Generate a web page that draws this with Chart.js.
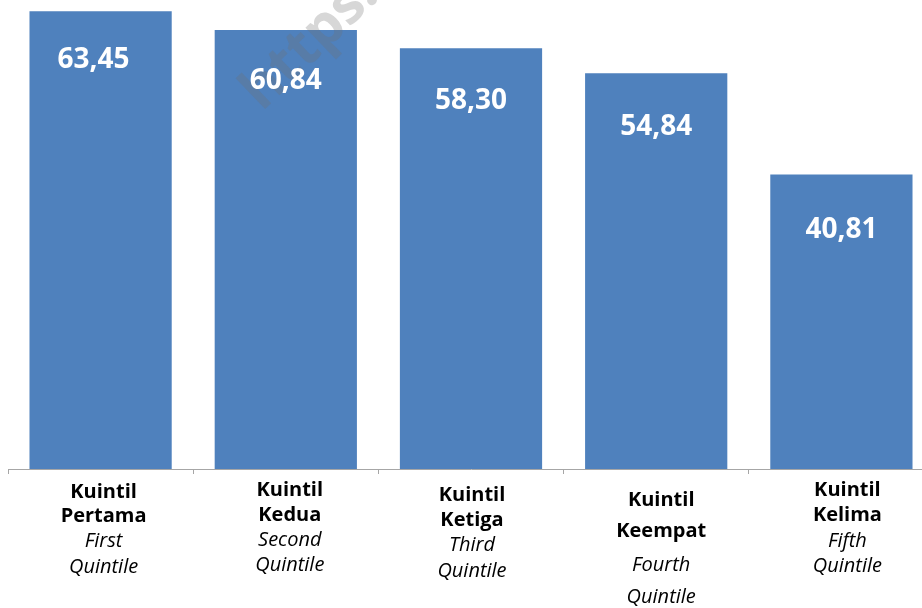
<!DOCTYPE html>
<html>
<head>
<meta charset="utf-8">
<script src="https://cdn.jsdelivr.net/npm/chart.js@4.4.0/dist/chart.umd.min.js"></script>
<style>
  html, body { margin: 0; padding: 0; background: #fff; overflow: hidden; }
  #wrap { width: 922px; height: 608px; overflow: hidden; position: relative; }
  #box { width: 940px; height: 608px; position: absolute; left: 0; top: 0; }
</style>
</head>
<body>
<div id="wrap"><div id="box"><canvas id="chart"></canvas></div></div>
<script>
// Kuintil pendapatan — nilai per kuintil
const categories = ['Kuintil Pertama', 'Kuintil Kedua', 'Kuintil Ketiga', 'Kuintil Keempat', 'Kuintil Kelima'];
const labelsId = [['Kuintil', 'Pertama'], ['Kuintil', 'Kedua'], ['Kuintil', 'Ketiga'], ['Kuintil', 'Keempat'], ['Kuintil', 'Kelima']];
const labelsEn = [['First', 'Quintile'], ['Second', 'Quintile'], ['Third', 'Quintile'], ['Fourth', 'Quintile'], ['Fifth', 'Quintile']];
const values = [63.45, 60.84, 58.30, 54.84, 40.81];

const FONT = '"Open Sans", "Noto Sans", sans-serif';

// y centres of each label line, per category (the 4th one is spread out)
const lineY = [
  [492, 516, 541, 567],
  [490, 515, 540, 565],
  [495, 520, 545, 571],
  [500, 531, 565, 597],
  [490, 515, 541, 566],
];
const lineDx = [3, 4, 1, 5, 6];
// value label offsets from bar top
const valDy = [49, 51, 53, 54, 55];
const valDx = [-7, 0, 0, 0, 0];

const fmt = v => v.toFixed(2).replace('.', ',');

const watermark = {
  id: 'watermark',
  afterDatasetsDraw(chart) {
    const ctx = chart.ctx;
    ctx.save();
    ctx.translate(262, 112);
    ctx.rotate(-44 * Math.PI / 180);
    ctx.font = 'bold 56px ' + FONT;
    ctx.fillStyle = 'rgba(110,110,110,0.28)';
    ctx.textBaseline = 'alphabetic';
    ctx.fillText('https://www.bps.go.id', 0, 0);
    ctx.restore();
  }
};

const textLabels = {
  id: 'textLabels',
  afterDraw(chart) {
    const ctx = chart.ctx;
    const x = chart.scales.x;
    const meta = chart.getDatasetMeta(0);
    ctx.save();
    ctx.textAlign = 'center';
    ctx.textBaseline = 'middle';
    // value labels inside bars
    ctx.fillStyle = '#ffffff';
    ctx.font = 'bold 28px ' + FONT;
    meta.data.forEach((bar, i) => {
      ctx.fillText(fmt(values[i]), bar.x + valDx[i], bar.y + valDy[i]);
    });
    // category labels
    ctx.fillStyle = '#000000';
    categories.forEach((c, i) => {
      const cx = x.getPixelForValue(i) + lineDx[i];
      const lines = labelsId[i].map(t => [t, 'bold']).concat(labelsEn[i].map(t => [t, 'italic']));
      lines.forEach(([t, style], j) => {
        ctx.font = style + ' 20px ' + FONT;
        ctx.fillText(t, cx, lineY[i][j]);
      });
    });
    ctx.restore();
  }
};

new Chart(document.getElementById('chart'), {
  type: 'bar',
  data: {
    labels: categories,
    datasets: [{
      data: values,
      backgroundColor: '#4f81bd',
      borderWidth: 0,
      categoryPercentage: 1,
      barPercentage: 0.768,
    }],
  },
  options: {
    responsive: true,
    maintainAspectRatio: false,
    animation: false,
    layout: { padding: { left: 8, right: 6, top: 0, bottom: 0 } },
    plugins: { legend: { display: false }, tooltip: { enabled: false } },
    scales: {
      y: { display: false, min: 0, max: 65 },
      x: {
        afterFit: s => { s.height = 139; },
        ticks: { display: false },
        grid: { offset: true, drawOnChartArea: false, drawTicks: true, tickLength: 5, color: '#a6a6a6' },
        border: { display: true, color: '#a6a6a6', width: 1 },
      },
    },
  },
  plugins: [watermark, textLabels],
});
</script>
</body>
</html>
